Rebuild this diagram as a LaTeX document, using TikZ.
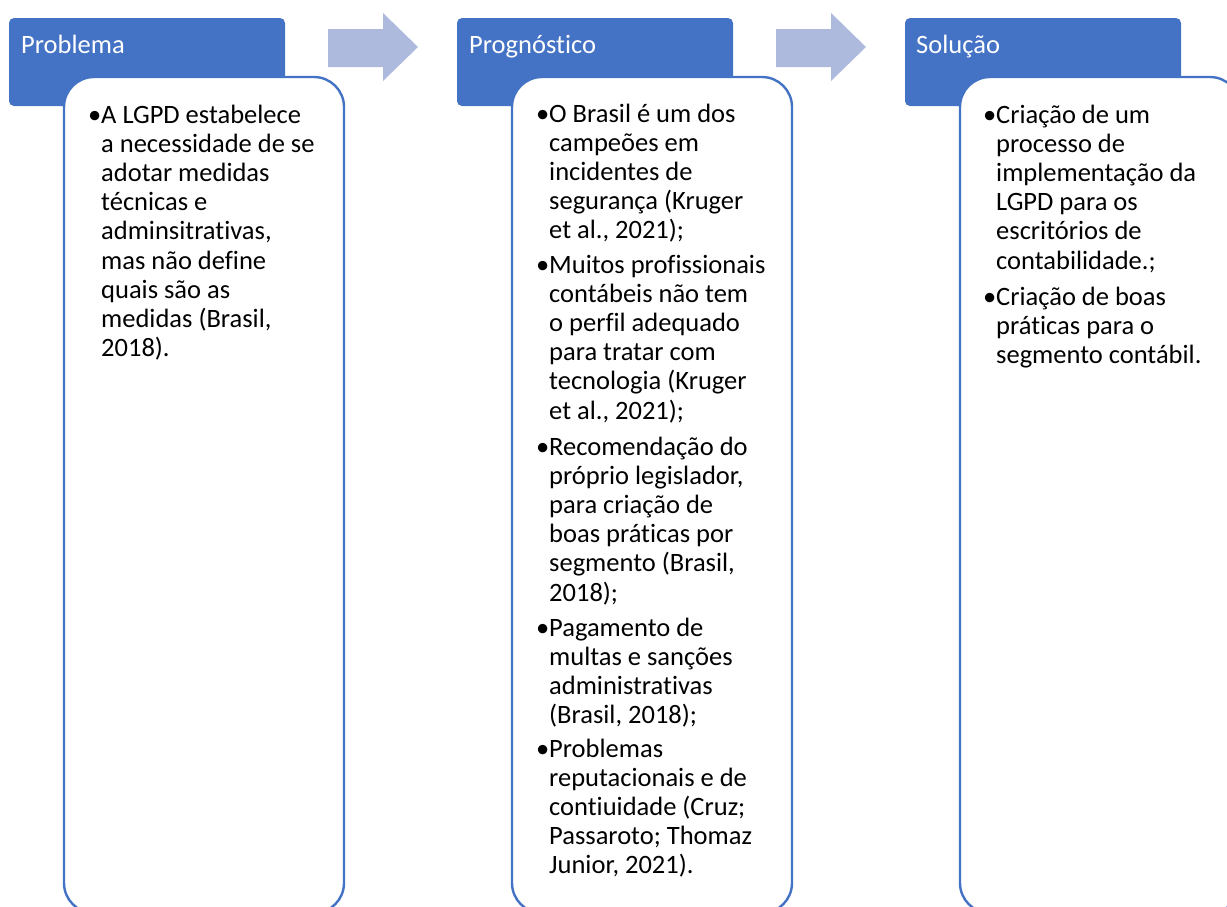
\documentclass[tikz,border=0pt]{standalone}
\usepackage{fontspec}
\setmainfont{Carlito}[Ligatures=NoCommon]
\definecolor{hdrblue}{HTML}{4472C4}
\definecolor{arrblue}{HTML}{ADBADE}
\newcommand\BL[1]{\hbox{\hbox to 13pt{\textbullet\hss}#1}}
\newcommand\CL[1]{\hbox{\hskip 13pt #1}}
\newcommand\Body[1]{\vtop{\baselineskip=29.2pt\lineskiplimit=-100pt\lineskip=0pt #1}}
\tikzset{
  hdrbox/.style={fill=hdrblue, rounded corners=5pt},
  bodybox/.style={fill=white, draw=hdrblue, line width=2.4pt, rounded corners=30pt},
  chev/.style={fill=arrblue},
  htxt/.style={anchor=base west, inner sep=0pt, text=white, font=\fontsize{26.5}{29.2}\selectfont},
  btxt/.style={anchor=base west, inner sep=0pt, text=black, font=\fontsize{26.5}{29.2}\selectfont},
}
\begin{document}
\begin{tikzpicture}[x=1pt,y=-1pt]
\useasboundingbox (0,0) rectangle (1227,906);
\clip (0,0) rectangle (1227,906);
% arrows
\foreach \dx in {0,448}{
  \fill[chev] (328+\dx,29) -- (383+\dx,29) -- (383+\dx,13) -- (418+\dx,47) -- (383+\dx,81) -- (383+\dx,67) -- (328+\dx,67) -- cycle;
}
% headers and bodies
\foreach \dx in {0,448,896}{
  \fill[hdrbox] (9+\dx,18) rectangle (285+\dx,106);
  \draw[bodybox] (64+\dx,77) rectangle (344+\dx,913);
}
% header labels
\node[htxt] (h1) at (21,53) {Problema};
\node[htxt] (h2) at (469,53) {Prognóstico};
\node[htxt] (h3) at (916,53) {Solução};
% column 1
\node[btxt] (b11) at (88,123) {\Body{%
  \BL{A LGPD estabelece}\CL{a necessidade de se}\CL{adotar medidas}\CL{técnicas e}%
  \CL{adminsitrativas,}\CL{mas não define}\CL{quais são as}\CL{medidas (Brasil,}\CL{2018).}}};
% column 2
\node[btxt] (b21) at (536,122) {\Body{%
  \BL{O Brasil é um dos}\CL{campeões em}\CL{incidentes de}\CL{segurança (Kruger}\CL{et al., 2021);}}};
\node[btxt] (b22) at (536,273) {\Body{%
  \BL{Muitos profissionais}\CL{contábeis não tem}\CL{o perfil adequado}\CL{para tratar com}\CL{tecnologia (Kruger}\CL{et al., 2021);}}};
\node[btxt] (b23) at (536,455) {\Body{%
  \BL{Recomendação do}\CL{próprio legislador,}\CL{para criação de}\CL{boas práticas por}\CL{segmento (Brasil,}\CL{2018);}}};
\node[btxt] (b24) at (536,636) {\Body{%
  \BL{Pagamento de}\CL{multas e sanções}\CL{administrativas}\CL{(Brasil, 2018);}}};
\node[btxt] (b25) at (536,757) {\Body{%
  \BL{Problemas}\CL{reputacionais e de}\CL{contiuidade (Cruz;}\CL{Passaroto; Thomaz}\CL{Junior, 2021).}}};
% column 3
\node[btxt] (b31) at (983,123) {\Body{%
  \BL{Criação de um}\CL{processo de}\CL{implementação da}\CL{LGPD para os}\CL{escritórios de}\CL{contabilidade.;}}};
\node[btxt] (b32) at (983,305) {\Body{%
  \BL{Criação de boas}\CL{práticas para o}\CL{segmento contábil.}}};
\end{tikzpicture}
\end{document}
